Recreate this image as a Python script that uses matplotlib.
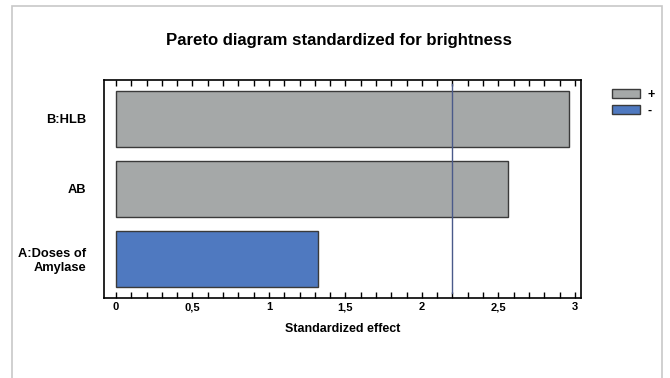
import matplotlib.pyplot as plt
from matplotlib.patches import Patch, Rectangle
from matplotlib.ticker import MultipleLocator, FuncFormatter

plt.rcParams['font.family'] = ['Liberation Sans', 'DejaVu Sans']

# data (bottom to top)
labels = ['A:Doses of\nAmylase', 'AB', 'B:HLB']
effects = [1.32, 2.56, 2.96]
signs = ['-', '+', '+']
ref_line = 2.2

gray = '#a5a8a8'
blue = '#4f79c0'
colors_map = {'+': gray, '-': blue}

fig = plt.figure(figsize=(6.7, 3.78), dpi=100)
# light frame around the figure
fig.patches.append(Rectangle((12/670, -0.1), 650/670, 1.1 - 6/378, transform=fig.transFigure,
                             fill=False, edgecolor='#c8c8c8', linewidth=1.2))

ax = fig.add_axes([104/670, 1 - 298/378, 477/670, 218/378])

ypos = list(range(len(labels)))
ax.barh(ypos, effects, height=0.8, color=[colors_map[s] for s in signs],
        edgecolor='#3a3a3a', linewidth=1.0)
ax.axvline(ref_line, ymin=0.025, ymax=0.98, color='#4a5a8a', linewidth=1.0)

ax.set_xlim(-0.078, 3.04)
ax.set_ylim(-0.564, 2.55)
ax.set_yticks(ypos)
ax.set_yticklabels(labels, fontsize=9.3, fontweight='bold', linespacing=1.25)
for lab in ax.get_yticklabels():
    lab.set_multialignment('right')
ax.tick_params(axis='y', length=0, pad=13)

ax.xaxis.set_major_locator(MultipleLocator(0.5))
ax.xaxis.set_minor_locator(MultipleLocator(0.1))
ax.xaxis.set_major_formatter(FuncFormatter(lambda v, p: ('%g' % v).replace('.', ',')))
ax.tick_params(axis='x', which='both', direction='in', top=True, length=4, width=1,
               labelsize=8, pad=3)
for lab in ax.get_xticklabels():
    lab.set_fontweight('bold')
for sp in ax.spines.values():
    sp.set_linewidth(1.2)

ax.set_xlabel('Standardized effect', fontsize=9, fontweight='bold', labelpad=8)
fig.text(339.5/670, 1 - 40/378, 'Pareto diagram standardized for brightness',
         ha='center', va='center', fontsize=12.1, fontweight='bold')

handles = [Patch(facecolor=gray, edgecolor='#3a3a3a', label='+'),
           Patch(facecolor=blue, edgecolor='#3a3a3a', label='-')]
leg = fig.legend(handles=handles, loc='upper left', bbox_to_anchor=(607/670, 1 - 84/378),
                 frameon=False, fontsize=9, handlelength=2.2, handleheight=0.7,
                 handletextpad=0.6, labelspacing=0.3, borderaxespad=0)
for t in leg.get_texts():
    t.set_fontweight('bold')

fig.savefig('out.png', dpi=100)
